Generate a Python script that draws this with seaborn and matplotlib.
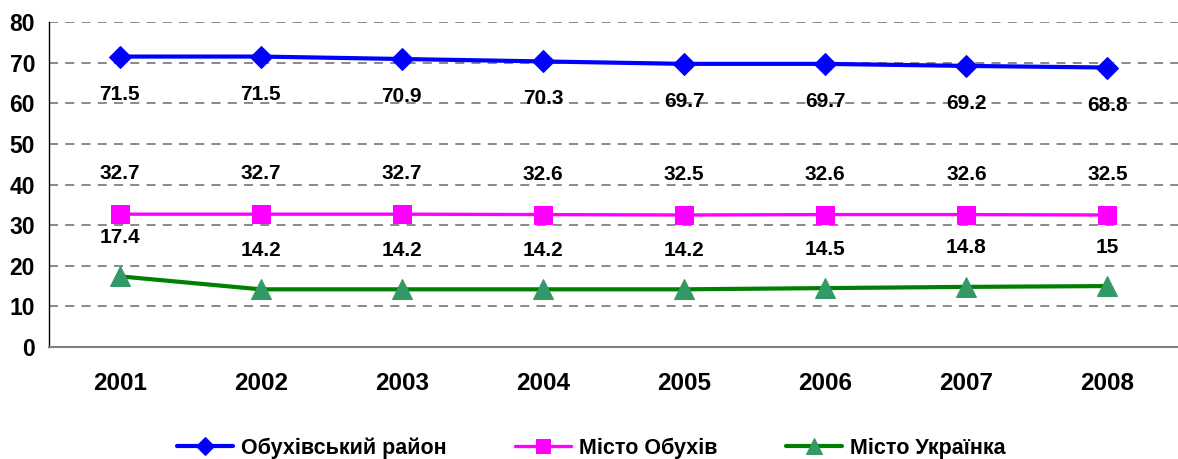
import pandas as pd
import numpy as np
import matplotlib.pyplot as plt
import seaborn as sns

sns.set_style('white')
plt.rcParams['font.family'] = ['Liberation Sans', 'DejaVu Sans']
plt.rcParams['font.weight'] = 'bold'
plt.rcParams['text.color'] = 'black'
plt.rcParams['xtick.color'] = 'black'
plt.rcParams['ytick.color'] = 'black'

years = ['2001', '2002', '2003', '2004', '2005', '2006', '2007', '2008']
rayon = [71.5, 71.5, 70.9, 70.3, 69.7, 69.7, 69.2, 68.8]
obukhiv = [32.7, 32.7, 32.7, 32.6, 32.5, 32.6, 32.6, 32.5]
ukrainka = [17.4, 14.2, 14.2, 14.2, 14.2, 14.5, 14.8, 15]
labels = ['Обухівський район', 'Місто Обухів', 'Місто Українка']

df = pd.DataFrame({'pos': np.arange(len(years)), 'rayon': rayon,
                   'obukhiv': obukhiv, 'ukrainka': ukrainka})

fig = plt.figure(figsize=(11.78, 4.59), dpi=100)
ax = fig.add_axes([0.0416, 0.244, 0.9584, 0.708])

# column, legend label, line colour, marker colour, marker, size, width, label offset
styles = [
    ('rayon',    labels[0], '#0000FF', '#0000FF', 'D', 11, 3.0, -27),
    ('obukhiv',  labels[1], '#FF00FF', '#FF00FF', 's', 13, 2.4, 29),
    ('ukrainka', labels[2], '#008000', '#339966', '^', 14, 3.0, 28),
]
for col, lbl, lc, mc, mk, ms, lw, off in styles:
    sns.lineplot(data=df, x='pos', y=col, ax=ax, color=lc, linewidth=lw,
                 marker=mk, markersize=ms, markerfacecolor=mc,
                 markeredgecolor=mc, label=lbl, legend=False)
    for x, v in zip(df['pos'], df[col]):
        ax.annotate(f'{v:g}', (x, v), xytext=(0, off), textcoords='offset points',
                    ha='center', va='center', fontsize=15, fontweight='bold')

ax.set_ylim(0, 80)
ax.set_xlim(-0.5, 7.46)
ax.set_yticks(range(0, 81, 10))
ax.set_xticks(df['pos'])
ax.set_xticklabels(years)
ax.set_xticks(np.arange(-0.5, 7.6, 1), minor=True)
ax.tick_params(axis='x', which='major', length=0, pad=18, labelsize=17.5)
ax.tick_params(axis='x', which='minor', length=6, color='#808080', direction='out')
ax.tick_params(axis='y', length=7, color='#808080', direction='out', labelsize=16.5, pad=3)
ax.yaxis.grid(True, linestyle=(0, (5, 4)), color='#808080', linewidth=1.3)
ax.set_axisbelow(True)
ax.set_xlabel('')
ax.set_ylabel('')
for s in ['top', 'right']:
    ax.spines[s].set_visible(False)
ax.spines['left'].set_color('black')
ax.spines['left'].set_linewidth(1)
ax.spines['bottom'].set_color('#808080')
ax.spines['bottom'].set_linewidth(1.5)

handles, hl = ax.get_legend_handles_labels()
fig.legend(handles, hl, loc='center', bbox_to_anchor=(0.502, 0.024), ncol=3,
           frameon=False, handlelength=2.6, columnspacing=3.2, handletextpad=0.35,
           markerscale=0.8, prop={'weight': 'bold', 'size': 15.5})

fig.savefig('out.png', dpi=100)
